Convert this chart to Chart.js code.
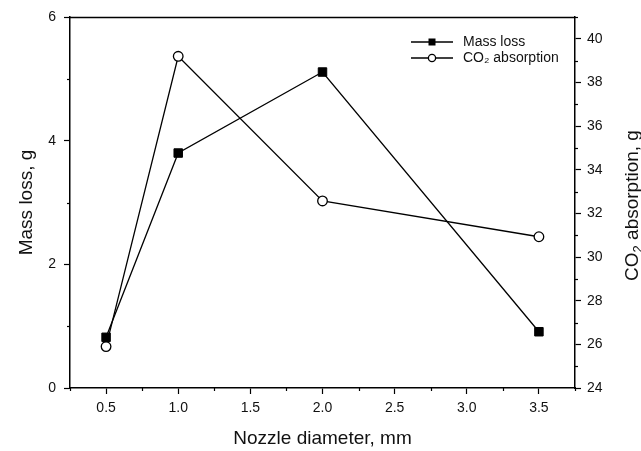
<!DOCTYPE html>
<html>
<head>
<meta charset="utf-8">
<script src="https://cdn.jsdelivr.net/npm/chart.js@4.4.0/dist/chart.umd.min.js"></script>
<style>
html, body { margin: 0; padding: 0; background: #fff; }
#wrap { width: 641px; height: 451px; }
</style>
</head>
<body>
<div id="wrap"><canvas id="chart" width="641" height="451"></canvas></div>
<script>
// values
var nozzleDiameters = [0.5, 1.0, 2.0, 3.5];
var massLoss = [0.82, 3.80, 5.11, 0.91];
var co2Absorption = [25.9, 39.2, 32.57, 30.93];

var xTicks = [0.5, 1.0, 1.5, 2.0, 2.5, 3.0, 3.5];
var massTicks = [0, 2, 4, 6];
var co2Ticks = [24, 26, 28, 30, 32, 34, 36, 38, 40];

var FONT = "'Liberation Sans', Arial, sans-serif";

function isMajor(id, v) {
  var list = id === 'x' ? xTicks : (id === 'y' ? massTicks : co2Ticks);
  for (var i = 0; i < list.length; i++) {
    if (Math.abs(list[i] - v) < 1e-6) return true;
  }
  return false;
}

function points(xs, ys) {
  var out = [];
  for (var i = 0; i < xs.length; i++) out.push({ x: xs[i], y: ys[i] });
  return out;
}

function tickColor(id) {
  return function(c) {
    return c.tick && isMajor(id, c.tick.value) ? '#000' : 'rgba(0,0,0,0)';
  };
}

var extras = {
  id: 'extras',
  afterDraw: function(chart) {
    var ctx = chart.ctx;
    var area = chart.chartArea;
    ctx.save();

    // short minor ticks
    ctx.strokeStyle = '#000';
    ctx.lineWidth = 1.2;
    ['x', 'y', 'y2'].forEach(function(id) {
      var scale = chart.scales[id];
      scale.ticks.forEach(function(t) {
        if (isMajor(id, t.value)) return;
        var p = Math.round(scale.getPixelForValue(t.value)) + 0.5;
        ctx.beginPath();
        if (id === 'x') { ctx.moveTo(p, area.bottom); ctx.lineTo(p, area.bottom + 3); }
        else if (id === 'y') { ctx.moveTo(area.left, p); ctx.lineTo(area.left - 3, p); }
        else { ctx.moveTo(area.right, p); ctx.lineTo(area.right + 3, p); }
        ctx.stroke();
      });
    });

    // top frame line
    ctx.lineWidth = 1.5;
    ctx.beginPath();
    ctx.moveTo(area.left, Math.round(area.top) + 0.5);
    ctx.lineTo(area.right, Math.round(area.top) + 0.5);
    ctx.stroke();

    // legend
    var ds = chart.data.datasets;
    for (var i = 0; i < ds.length; i++) {
      var y = area.top + 25 + i * 16;
      var x0 = area.right - 164, x1 = area.right - 122, xm = area.right - 143;
      ctx.strokeStyle = '#000';
      ctx.lineWidth = 1.3;
      ctx.beginPath();
      ctx.moveTo(x0, y);
      ctx.lineTo(x1, y);
      ctx.stroke();
      if (ds[i].pointStyle === 'rect') {
        ctx.fillStyle = '#000';
        ctx.fillRect(xm - 3.5, y - 3.5, 7, 7);
      } else {
        ctx.fillStyle = '#fff';
        ctx.beginPath();
        ctx.arc(xm, y, 3.6, 0, Math.PI * 2);
        ctx.fill();
        ctx.stroke();
      }
      ctx.fillStyle = '#111';
      ctx.textBaseline = 'middle';
      ctx.textAlign = 'left';
      ctx.font = '14px ' + FONT;
      ctx.fillText(ds[i].label, area.right - 112, y);
    }

    // right axis title, read bottom to top with a subscript 2
    var big = '19px ' + FONT, small = '13px ' + FONT;
    ctx.font = big;
    var wCO = ctx.measureText('CO').width;
    var wRest = ctx.measureText(' absorption, g').width;
    ctx.font = small;
    var w2 = ctx.measureText('2').width;
    var total = wCO + w2 + wRest;
    ctx.translate(area.right + 58, (area.top + area.bottom) / 2 + 3);
    ctx.rotate(-Math.PI / 2);
    ctx.fillStyle = '#111';
    ctx.textAlign = 'left';
    ctx.textBaseline = 'middle';
    var sx = -total / 2;
    ctx.font = big;
    ctx.fillText('CO', sx, 0);
    ctx.font = small;
    ctx.fillText('2', sx + wCO, 5);
    ctx.font = big;
    ctx.fillText(' absorption, g', sx + wCO + w2, 0);

    ctx.restore();
  }
};

var ctx = document.getElementById('chart').getContext('2d');

var chart = new Chart(ctx, {
  type: 'line',
  data: {
    datasets: [
      {
        label: 'Mass loss',
        data: points(nozzleDiameters, massLoss),
        yAxisID: 'y',
        borderColor: '#000',
        borderWidth: 1.3,
        pointStyle: 'rect',
        pointRadius: 6,
        pointBackgroundColor: '#000',
        pointBorderColor: '#000',
        pointBorderWidth: 1,
        tension: 0
      },
      {
        label: 'CO\u2082 absorption',
        data: points(nozzleDiameters, co2Absorption),
        yAxisID: 'y2',
        borderColor: '#000',
        borderWidth: 1.3,
        pointStyle: 'circle',
        pointRadius: 4.8,
        pointBackgroundColor: '#fff',
        pointBorderColor: '#000',
        pointBorderWidth: 1.3,
        tension: 0
      }
    ]
  },
  options: {
    responsive: false,
    animation: false,
    events: [],
    layout: { padding: { top: 17, left: 0, right: 0, bottom: 0 } },
    plugins: {
      legend: { display: false },
      tooltip: { enabled: false }
    },
    scales: {
      x: {
        type: 'linear',
        min: 0.25,
        max: 3.75,
        afterFit: function(s) { s.height = 63; },
        border: { display: true, color: '#000', width: 1.5 },
        grid: { drawOnChartArea: false, tickLength: 6, tickWidth: 1.2, tickColor: tickColor('x') },
        ticks: {
          stepSize: 0.25,
          padding: 6,
          color: '#111',
          font: { size: 14, family: FONT },
          maxRotation: 0,
          autoSkip: false,
          callback: function(v) { return isMajor('x', v) ? v.toFixed(1) : ''; }
        },
        title: {
          display: true,
          text: 'Nozzle diameter, mm',
          color: '#111',
          font: { size: 19, family: FONT, lineHeight: 1 },
          padding: { top: 0, bottom: 3 }
        }
      },
      y: {
        position: 'left',
        min: 0,
        max: 6,
        afterFit: function(s) { s.width = 70; },
        border: { display: true, color: '#000', width: 1.5 },
        grid: { drawOnChartArea: false, tickLength: 6, tickWidth: 1.2, tickColor: tickColor('y') },
        ticks: {
          stepSize: 1,
          padding: 8,
          color: '#111',
          font: { size: 14, family: FONT },
          autoSkip: false,
          callback: function(v) { return isMajor('y', v) ? String(v) : ''; }
        },
        title: {
          display: true,
          text: 'Mass loss, g',
          color: '#111',
          font: { size: 19, family: FONT, lineHeight: 1 },
          padding: { top: 17, bottom: 0 }
        }
      },
      y2: {
        position: 'right',
        min: 24,
        max: 41,
        afterFit: function(s) { s.width = 66; },
        border: { display: true, color: '#000', width: 1.5 },
        grid: { drawOnChartArea: false, tickLength: 6, tickWidth: 1.2, tickColor: tickColor('y2') },
        ticks: {
          stepSize: 1,
          padding: 6,
          color: '#111',
          font: { size: 14, family: FONT },
          autoSkip: false,
          callback: function(v) { return isMajor('y2', v) ? String(v) : ''; }
        }
      }
    }
  },
  plugins: [extras]
});
</script>
</body>
</html>
